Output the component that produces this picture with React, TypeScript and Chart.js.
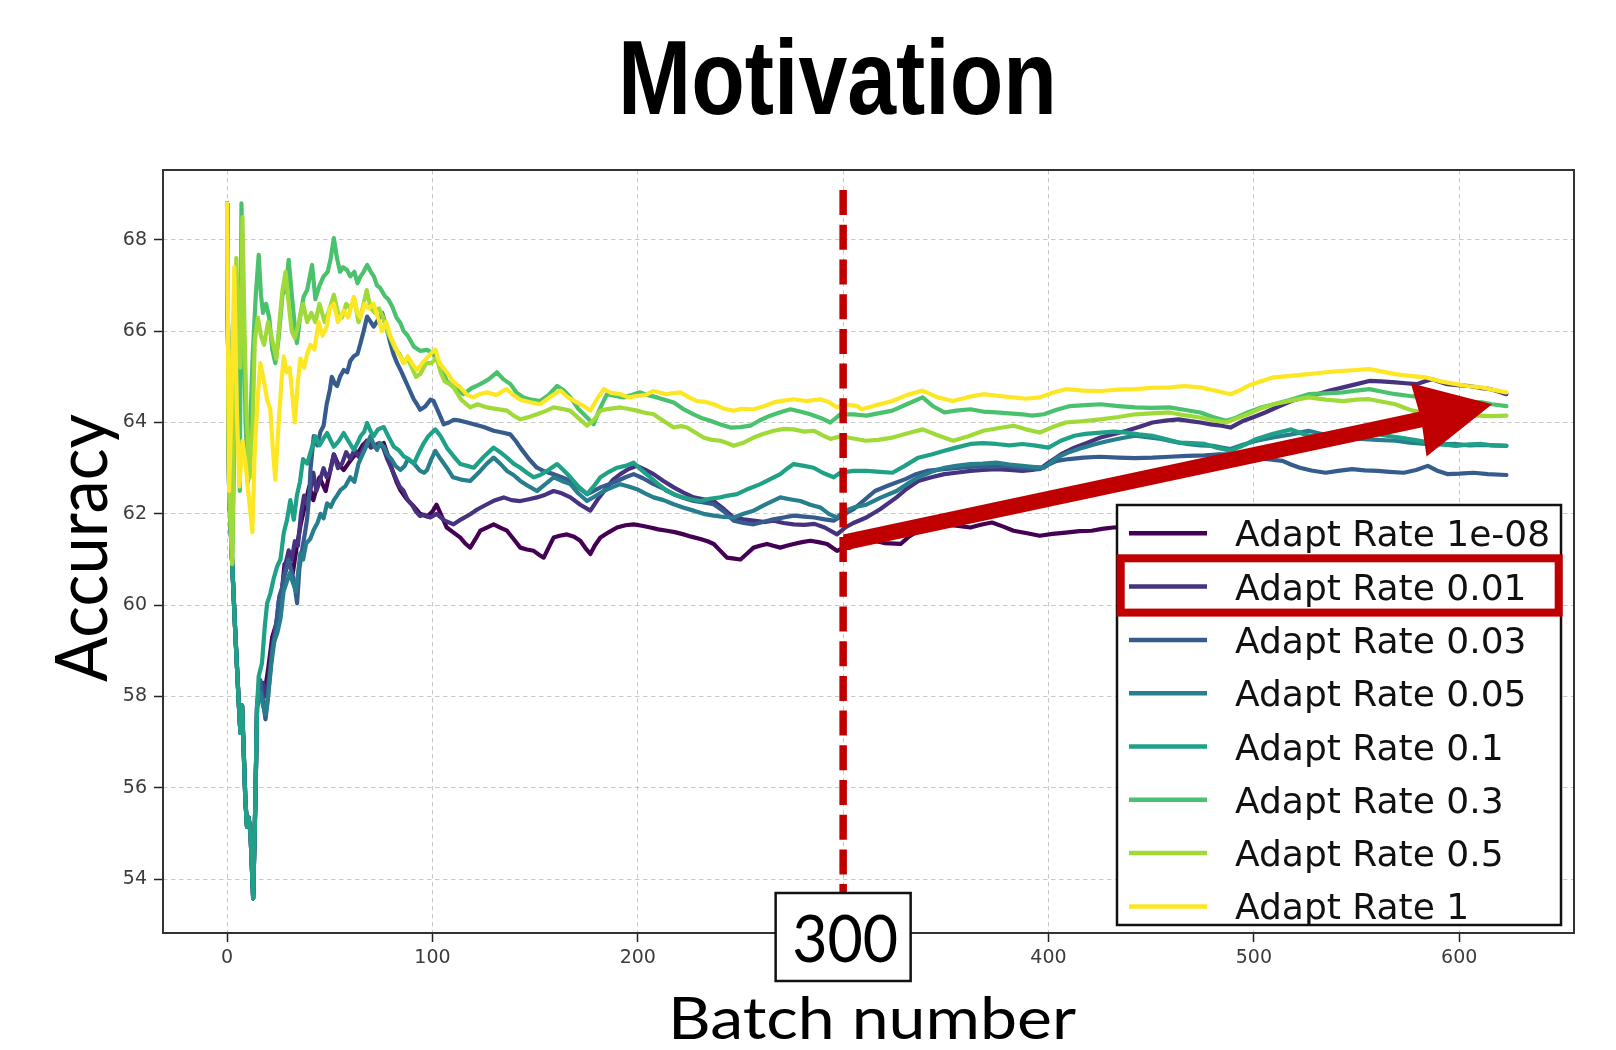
import React, { useEffect, useRef } from 'react';
import { Chart, registerables } from 'chart.js';

Chart.register(...registerables);

// ---------- data ----------
const TITLE = 'Motivation';
const X_TITLE = 'Batch number';
const Y_TITLE = 'Accuracy';

const SERIES_LABELS = [
  'Adapt Rate 1e-08',
  'Adapt Rate 0.01',
  'Adapt Rate 0.03',
  'Adapt Rate 0.05',
  'Adapt Rate 0.1',
  'Adapt Rate 0.3',
  'Adapt Rate 0.5',
  'Adapt Rate 1',
];
const SERIES_COLORS = ['#440154', '#46327e', '#365c8d', '#277f8e', '#1fa187', '#4ac16d', '#a0da39', '#fde725'];

const X_TICKS = [0, 100, 200, 300, 400, 500, 600];
const Y_TICKS = [54, 56, 58, 60, 62, 64, 66, 68];
const X_RANGE = [-31.2, 655.9];
const Y_RANGE = [52.82, 69.53];

const MARKER_BATCH = 300;
const MARKER_LABEL = '300';
const MARKER_TOP = 69.09;
const ARROW_FROM = [300, 61.37];
const ARROW_TO = [616, 64.4];
const HIGHLIGHT_INDEX = 1;

// shared first batches (lines overlap here)
const EARLY_DIP: [number, number][] = [
  [0, 68.8], [1, 62.5], [2.5, 60.9], [4, 59.4], [5.7, 57.85], [6.5, 57.2], [7.3, 57.8], [8.1, 56.8],
  [8.9, 55.74], [9.7, 55.15], [10.5, 55.35], [11.4, 55.0], [12.7, 53.58], [13.8, 55.74], [14.6, 57.78],
];

const rate1e08: [number, number][] = [
  ...EARLY_DIP,
  [16, 58.3], [18, 58.0], [20, 58.6], [22, 59.3], [24, 59.6], [26, 60.0], [28, 60.9], [30, 61.0], [32, 60.7],
  [34, 61.3], [36, 61.8], [38, 62.2], [40, 62.6], [42, 62.3], [45, 62.8], [48, 62.5], [50, 62.9], [52, 63.3],
  [54, 63.1], [56.8, 62.96], [59, 63.1], [61.7, 63.26], [64, 63.35], [66, 63.5], [68.2, 63.6], [70.5, 63.55],
  [73, 63.47], [76.3, 63.55], [78.5, 63.25], [80.4, 62.96], [82.5, 62.7], [84.4, 62.52], [87, 62.35], [89, 62.25],
  [91, 62.16], [94, 62.0], [97.4, 61.94], [100, 62.05], [102, 62.2], [104.5, 61.95], [107, 61.7], [110, 61.6],
  [113.6, 61.48], [116, 61.35], [118.4, 61.26], [121, 61.45], [123.3, 61.63], [126.5, 61.7], [129.8, 61.77],
  [133, 61.7], [136.3, 61.63], [139.5, 61.45], [142.8, 61.26], [146, 61.22], [149.3, 61.19], [152, 61.1],
  [154.2, 61.04], [157, 61.3], [159, 61.48], [162, 61.52], [165.5, 61.55], [169, 61.5], [172, 61.41],
  [174.5, 61.25], [176.9, 61.12], [179, 61.3], [181.8, 61.48], [186, 61.6], [189.9, 61.7], [194, 61.75],
  [198, 61.77], [202, 61.74], [206.1, 61.7], [210, 61.66], [214.2, 61.63], [218, 61.6], [222.3, 61.55],
  [226, 61.5], [230.5, 61.45], [234, 61.4], [237, 61.34], [240, 61.2], [243.5, 61.04], [247, 61.02], [250, 61.0],
  [253, 61.12], [256.4, 61.26], [259.5, 61.3], [262.9, 61.34], [266, 61.3], [269.4, 61.26], [272.5, 61.3],
  [275.9, 61.34], [280, 61.38], [284, 61.41], [288, 61.38], [292.2, 61.34], [295, 61.25], [297, 61.19],
  [300, 61.25], [303.5, 61.26], [306, 61.4], [309, 61.48], [314, 61.42], [320, 61.36], [328, 61.34], [332, 61.5],
  [336.6, 61.63], [343, 61.7], [349.3, 61.77], [355, 61.74], [362, 61.7], [367, 61.76], [372.5, 61.81],
  [378, 61.72], [383, 61.63], [389, 61.58], [395.7, 61.52], [402, 61.56], [408.4, 61.59], [415, 61.62],
  [421, 61.63], [426, 61.67], [431.6, 61.7], [440, 61.72], [450, 61.68], [465, 61.76], [480, 61.8], [495, 61.74],
  [510, 61.82], [525, 61.86], [540, 61.8], [555, 61.88], [570, 61.9], [585, 61.85], [600, 61.92], [612, 61.9],
  [623, 61.88],
];

const rate001: [number, number][] = [
  ...EARLY_DIP,
  [16, 58.0], [17.5, 58.3], [19, 58.0], [20.3, 58.4], [22, 59.1], [24, 59.6], [25.5, 60.2], [27, 60.4],
  [28.5, 60.9], [30, 61.2], [31.5, 61.0], [33, 61.4], [34.5, 61.3], [36, 62.0], [37.5, 62.4], [39, 62.2],
  [40.5, 62.5], [42, 62.9], [43.5, 62.5], [45, 62.7], [47, 63.0], [48.5, 62.8], [50, 62.9], [52, 63.3], [54, 63.0],
  [56, 63.1], [58, 63.35], [60, 63.2], [62, 63.4], [64, 63.25], [66, 63.4], [68, 63.6], [70, 63.45], [72, 63.5],
  [74, 63.55], [76, 63.45], [78, 63.2], [80, 63.0], [82, 62.8], [84, 62.6], [86, 62.5], [88, 62.3], [90, 62.2],
  [92, 62.05], [94, 61.95], [96, 61.98], [99, 61.92], [102, 62.0], [106, 61.85], [110.3, 61.77], [114, 61.88],
  [118.4, 61.99], [122, 62.1], [126.6, 62.21], [130.5, 62.3], [134.7, 62.36], [138.5, 62.3], [142.8, 62.28],
  [147, 62.32], [150.9, 62.36], [155, 62.42], [159, 62.5], [163, 62.45], [167.2, 62.36], [172, 62.2],
  [176.9, 62.07], [181, 62.35], [185, 62.58], [188, 62.75], [191.5, 62.87], [195.5, 62.98], [199.6, 63.05],
  [203.5, 62.97], [207.7, 62.87], [212.5, 62.72], [217.5, 62.58], [222, 62.47], [227.2, 62.36], [232, 62.32],
  [237, 62.28], [242, 62.1], [246.7, 61.92], [251.5, 61.88], [256.4, 61.85], [262, 61.82], [266.2, 61.85],
  [271, 61.8], [275.9, 61.77], [281, 61.76], [286, 61.78], [291, 61.7], [297, 61.55], [301, 61.7], [305, 61.8],
  [311.3, 61.92], [318, 62.1], [326, 62.36], [331, 62.55], [336.6, 62.72], [343, 62.8], [349.3, 62.87],
  [355, 62.9], [362, 62.94], [368, 62.96], [374.6, 62.98], [381, 62.96], [387.3, 62.94], [392, 62.96],
  [396, 62.99], [400, 63.12], [406, 63.3], [412.6, 63.45], [419, 63.56], [425.3, 63.67], [432, 63.75],
  [438, 63.82], [444, 63.9], [450.6, 64.0], [457, 64.04], [463.3, 64.07], [469, 64.03], [474, 64.0], [479, 63.96],
  [484.4, 63.93], [488.6, 63.89], [495, 64.04], [500, 64.12], [505.5, 64.22], [512, 64.35], [518.2, 64.47],
  [524, 64.55], [530.9, 64.62], [537, 64.7], [543.5, 64.77], [550, 64.84], [556.2, 64.91], [562, 64.9],
  [569, 64.88], [574, 64.86], [579.4, 64.84], [583, 64.9], [586.8, 64.95], [590, 64.9], [594.2, 64.84],
  [599, 64.82], [604.8, 64.8], [610, 64.76], [615.3, 64.73], [619, 64.68], [623, 64.62],
];

const rate003: [number, number][] = [
  ...EARLY_DIP,
  [15.4, 58.2], [16.2, 58.36], [17.5, 57.9], [18.7, 57.5], [19.5, 57.8], [20.3, 58.2], [22, 59.0], [23.5, 59.4],
  [25.2, 60.1], [26.5, 60.3], [27.6, 60.6], [29, 60.8], [30, 61.0], [31.7, 60.7], [33, 60.4], [34.1, 60.04],
  [35.2, 60.8], [36.5, 61.2], [38, 61.6], [39, 61.9], [40, 62.4], [40.6, 62.96], [42.2, 63.7], [44, 63.5],
  [45.5, 63.8], [47, 63.93], [48.5, 64.4], [50, 64.7], [51, 65.0], [52.5, 64.85], [53.6, 64.8], [55, 65.0],
  [56.8, 65.15], [58.5, 65.1], [60, 65.35], [61.7, 65.45], [63.5, 65.5], [65, 65.74], [66.5, 66.0], [68.2, 66.32],
  [70, 66.2], [71.4, 66.1], [73.5, 66.25], [75.5, 66.4], [77.5, 66.1], [79.5, 65.74], [81, 65.5], [82.8, 65.3],
  [84.5, 65.15], [86, 65.0], [88.5, 64.75], [91, 64.5], [92.5, 64.4], [94, 64.28], [96.5, 64.35], [99, 64.5],
  [100.6, 64.47], [103.9, 64.13], [105.5, 63.96], [108, 64.0], [110.4, 64.06], [113.6, 64.04], [117, 64.0],
  [120.1, 63.96], [125, 63.9], [129.8, 63.82], [134, 63.78], [137.9, 63.74], [140.5, 63.6], [142.8, 63.45],
  [147, 63.2], [150.9, 63.01], [155, 62.92], [159, 62.87], [163, 62.8], [167.2, 62.72], [171, 62.58],
  [175.3, 62.43], [178.5, 62.5], [181.8, 62.58], [186, 62.65], [189.9, 62.72], [194, 62.8], [198, 62.87],
  [202.5, 62.78], [207.7, 62.65], [212.5, 62.55], [217.5, 62.43], [222, 62.35], [227.2, 62.28], [232, 62.25],
  [237, 62.21], [242, 62.05], [246.7, 61.85], [251.5, 61.8], [256.4, 61.77], [261, 61.82], [266, 61.88],
  [271, 61.92], [275.9, 61.96], [281, 61.94], [286, 61.92], [291, 61.88], [295.4, 61.85], [299, 61.95],
  [305, 62.1], [309, 62.25], [315.5, 62.5], [322, 62.62], [330.3, 62.76], [335, 62.86], [340.8, 62.94],
  [349, 62.98], [357.7, 63.01], [365, 63.04], [372, 63.03], [379, 63.05], [387, 63.0], [395.7, 62.98],
  [400, 63.08], [404, 63.16], [410, 63.2], [417, 63.23], [425, 63.25], [434, 63.23], [442, 63.22], [450.6, 63.23],
  [459, 63.25], [467.5, 63.27], [476, 63.28], [482, 63.3], [488.6, 63.3], [496, 63.25], [505.5, 63.2],
  [514, 63.16], [518, 63.08], [522.4, 63.01], [528, 62.95], [535, 62.9], [541, 62.94], [547.8, 62.98],
  [554, 62.95], [560.4, 62.94], [566, 62.92], [573.1, 62.9], [579, 62.96], [584.7, 63.05], [589, 62.95],
  [594.2, 62.87], [600, 62.88], [607, 62.9], [614, 62.87], [623, 62.85],
];

const rate005: [number, number][] = [
  ...EARLY_DIP,
  [16, 58.1], [17.5, 57.8], [18.7, 57.6], [20, 58.0], [21.5, 58.7], [23, 59.2], [24.5, 59.4], [26, 59.7],
  [27.5, 60.3], [29, 60.5], [30.5, 60.7], [32, 60.5], [33.5, 60.3], [35.7, 61.14], [37, 61.0], [38.5, 61.35],
  [40.5, 61.45], [42.2, 61.65], [44, 61.8], [45.5, 62.0], [47, 61.9], [48.7, 62.23], [50.5, 62.15], [52, 62.3],
  [53.5, 62.4], [55.2, 62.52], [57.5, 62.6], [60, 62.8], [62, 62.7], [64, 63.1], [66, 63.3], [68, 63.5],
  [69.8, 63.7], [71.5, 63.5], [73, 63.4], [74.5, 63.55], [76.3, 63.47], [78, 63.3], [80, 63.2], [82, 63.05],
  [84.4, 62.96], [86.5, 63.05], [88, 63.2], [91, 63.1], [94, 62.94], [96, 62.9], [97.4, 62.96], [99.5, 63.2],
  [101.4, 63.38], [104, 63.2], [107, 63.01], [110, 62.8], [114, 62.75], [118.4, 62.72], [123.3, 62.94],
  [126.5, 63.1], [129.8, 63.23], [133, 63.1], [136.3, 62.94], [139.5, 62.85], [142.8, 62.72], [147, 62.6],
  [150.9, 62.5], [155, 62.65], [159, 62.8], [163, 62.72], [167.2, 62.65], [171, 62.45], [175.3, 62.28],
  [179, 62.38], [183.4, 62.5], [187.5, 62.58], [191.5, 62.65], [195.5, 62.6], [199.6, 62.54], [203.5, 62.45],
  [207.7, 62.36], [212.5, 62.3], [217.5, 62.21], [222, 62.14], [227.2, 62.07], [232, 62.0], [237, 61.96],
  [242, 61.93], [246.7, 61.92], [251.5, 62.0], [256.4, 62.07], [262, 62.2], [269.4, 62.36], [274, 62.32],
  [279.2, 62.28], [284, 62.2], [288.9, 62.14], [293, 62.0], [297, 61.92], [301, 62.07], [306, 62.15],
  [311.3, 62.2], [318, 62.35], [326, 62.5], [331, 62.65], [336.6, 62.8], [343, 62.92], [349.3, 63.01],
  [355, 63.05], [362, 63.09], [368, 63.1], [374.6, 63.12], [381, 63.08], [387.3, 63.05], [392, 63.03],
  [397.8, 63.01], [404.2, 63.23], [410, 63.35], [416.8, 63.45], [423, 63.53], [429.5, 63.6], [436, 63.66],
  [442.2, 63.71], [448, 63.68], [454.9, 63.64], [461, 63.58], [467.5, 63.53], [474, 63.5], [480.2, 63.49],
  [484.5, 63.45], [488.6, 63.42], [495, 63.52], [501.3, 63.6], [510, 63.68], [518.2, 63.74], [526.6, 63.82],
  [533, 63.75], [539, 63.7], [545, 63.67], [552, 63.64], [560, 63.62], [569, 63.6], [576, 63.56], [583.6, 63.53],
  [591, 63.52], [598.4, 63.53], [605, 63.5], [611, 63.51], [617, 63.5], [623, 63.49],
];

const rate01: [number, number][] = [
  ...EARLY_DIP,
  [15.4, 58.44], [17, 58.73], [18.3, 59.5], [19.5, 60.04], [21.1, 60.26], [22.8, 60.6], [24.4, 60.85], [26, 61.0],
  [27.6, 61.58], [29.2, 61.87], [30.8, 62.3], [32.5, 61.87], [34, 62.4], [35.5, 62.7], [37, 63.2], [39, 63.1],
  [41, 63.4], [43, 63.7], [45, 63.5], [47, 63.65], [48.7, 63.77], [50.5, 63.6], [52, 63.47], [54.5, 63.6],
  [56.8, 63.77], [59, 63.6], [61.7, 63.4], [63.5, 63.55], [65, 63.7], [66.8, 63.8], [68.2, 63.99], [70, 63.8],
  [71.4, 63.7], [73.5, 63.85], [76.3, 63.9], [78.5, 63.7], [81.2, 63.47], [83.5, 63.4], [86, 63.26], [88.5, 63.2],
  [91, 63.1], [93.5, 63.35], [95.8, 63.55], [98, 63.7], [101.4, 63.85], [104, 63.7], [107, 63.45], [110.5, 63.25],
  [113.6, 63.09], [117, 63.05], [120.1, 63.01], [125, 63.25], [129.8, 63.45], [133, 63.35], [136.3, 63.23],
  [139.5, 63.1], [142.8, 63.01], [146, 62.9], [149.3, 62.8], [152.5, 62.85], [155.8, 62.94], [160.7, 63.09],
  [164, 62.95], [167.2, 62.8], [171, 62.6], [175.3, 62.43], [178.5, 62.6], [181.8, 62.8], [186, 62.92],
  [189.9, 63.01], [194, 63.05], [198, 63.12], [202, 62.95], [206.1, 62.8], [210, 62.65], [214.2, 62.5],
  [218, 62.42], [222.3, 62.36], [226, 62.32], [230.5, 62.28], [235, 62.33], [240.2, 62.36], [244, 62.4],
  [248.3, 62.43], [254, 62.55], [259.7, 62.65], [264.5, 62.76], [269.4, 62.87], [273, 63.0], [275.9, 63.09],
  [281, 63.05], [285.6, 63.01], [290, 62.9], [295.4, 62.8], [298.6, 62.9], [305, 62.94], [311.3, 62.94],
  [318, 62.92], [324, 62.9], [330, 63.05], [336.6, 63.23], [343, 63.3], [349.3, 63.38], [355, 63.45],
  [362, 63.53], [368, 63.55], [374.6, 63.53], [381, 63.5], [387.3, 63.53], [393, 63.5], [400, 63.45],
  [406, 63.6], [412.6, 63.71], [418, 63.75], [425.3, 63.78], [432, 63.8], [438, 63.78], [444, 63.74],
  [450.6, 63.71], [457, 63.64], [463.3, 63.56], [470, 63.55], [476, 63.53], [482, 63.45], [488.6, 63.38],
  [495, 63.5], [501.3, 63.64], [509, 63.75], [518.2, 63.85], [524, 63.75], [530.9, 63.67], [537, 63.7],
  [543.5, 63.74], [550, 63.76], [556.2, 63.78], [563, 63.72], [571, 63.67], [578, 63.62], [585.8, 63.56],
  [592, 63.52], [598.4, 63.49], [605, 63.52], [611, 63.53], [616, 63.5], [623, 63.49],
];

const rate03: [number, number][] = [
  [0, 68.8], [1, 62.5], [2.5, 60.9], [3.5, 63.5], [4.5, 65.0], [5.5, 66.7], [6.2, 62.5], [7, 68.8], [8, 66.5],
  [9, 64.0], [10.2, 62.7], [11.5, 64.2], [12.5, 65.5], [14, 66.8], [15.4, 67.67], [16.5, 66.8], [17.5, 66.4],
  [19, 66.6], [20.5, 66.3], [22, 65.6], [23.5, 65.3], [25, 65.8], [27, 66.8], [28.5, 66.9], [30, 67.56],
  [31.5, 66.8], [33, 66.1], [34, 65.74], [35.5, 66.3], [37.3, 66.76], [39, 66.9], [41.4, 67.45], [43, 66.7],
  [45, 67.0], [47, 67.2], [49, 67.3], [50.5, 67.6], [52, 68.04], [53.5, 67.6], [55, 67.3], [56.5, 67.4],
  [58.4, 67.34], [60, 67.2], [62, 67.3], [63.5, 67.05], [65, 67.2], [66.5, 67.3], [68.2, 67.45], [70, 67.3],
  [71.5, 67.2], [73, 67.0], [74.5, 66.95], [77, 66.76], [78.5, 66.7], [80.4, 66.54], [82.5, 66.3], [84.4, 66.18],
  [86, 66.0], [88, 65.9], [91, 65.66], [94, 65.57], [97.4, 65.59], [100.6, 65.5], [103.5, 65.3], [107, 64.91],
  [111, 64.75], [115.2, 64.62], [119, 64.75], [123.3, 64.84], [127.5, 64.95], [131.4, 65.1], [134.5, 64.95],
  [138, 64.84], [141, 64.65], [144.4, 64.55], [148, 64.5], [152.5, 64.47], [156.5, 64.6], [160.7, 64.8],
  [164, 64.7], [167.2, 64.55], [171, 64.3], [175.3, 64.11], [178.5, 63.96], [181.5, 64.3], [185, 64.62],
  [189, 64.58], [193.1, 64.55], [197, 64.6], [201.2, 64.66], [205, 64.6], [209.4, 64.55], [213, 64.5],
  [217.5, 64.44], [222, 64.3], [227.2, 64.18], [231, 64.1], [235.3, 64.04], [240, 63.96], [245.1, 63.89],
  [250, 63.9], [254.8, 63.93], [259.5, 64.05], [264.5, 64.15], [269, 64.22], [274.3, 64.29], [279, 64.24],
  [284, 64.18], [289, 64.1], [293.8, 64.0], [298.6, 64.18], [305, 64.18], [311.3, 64.15], [317, 64.2],
  [324, 64.26], [331, 64.4], [338.7, 64.55], [344, 64.35], [349.3, 64.22], [355, 64.26], [362, 64.29],
  [368, 64.24], [374.6, 64.22], [381, 64.2], [387.3, 64.18], [392, 64.15], [397.8, 64.18], [404, 64.28],
  [410.5, 64.36], [418, 64.38], [425.3, 64.4], [434, 64.36], [442.2, 64.33], [450, 64.32], [459, 64.33],
  [466, 64.28], [473.9, 64.22], [480, 64.12], [486.5, 64.04], [491, 64.1], [497, 64.22], [503, 64.32],
  [509.7, 64.4], [518, 64.5], [526.6, 64.62], [535, 64.64], [543.5, 64.66], [550, 64.7], [556.2, 64.73],
  [562, 64.68], [568.9, 64.62], [576, 64.58], [583.6, 64.55], [591, 64.5], [598.4, 64.47], [604, 64.46],
  [611, 64.44], [616, 64.4], [623, 64.36],
];

const rate05: [number, number][] = [
  [0, 68.8], [1, 62.5], [2.5, 60.9], [3.5, 64.5], [4.5, 67.6], [5.5, 66.0], [6.5, 65.2], [7.5, 68.5], [8.5, 66.0],
  [9.5, 64.2], [11, 62.8], [12.5, 64.0], [13.5, 65.8], [15, 66.3], [16.5, 65.9], [18, 65.7], [20, 66.2],
  [22, 65.8], [24, 65.4], [25.5, 66.2], [27, 66.9], [28.5, 67.3], [30, 66.6], [31.5, 66.0], [33, 65.85],
  [35, 66.2], [37, 66.6], [39, 66.2], [41, 66.4], [43, 66.2], [45, 66.6], [47.5, 66.2], [50, 66.5], [52, 66.8],
  [54, 66.4], [56, 66.3], [58, 66.6], [60, 66.5], [62, 66.7], [64, 66.2], [66, 66.5], [68, 66.9], [70, 66.5],
  [72, 66.4], [74, 66.5], [76, 66.3], [78, 66.0], [80, 65.8], [82, 65.6], [84, 65.5], [86, 65.3], [88, 65.4],
  [90, 65.2], [92, 65.0], [94, 65.06], [97, 65.3], [99.5, 65.3], [102, 65.42], [104, 65.1], [106, 64.9],
  [108, 64.85], [110.3, 64.77], [114, 64.5], [118.4, 64.33], [122, 64.4], [126.6, 64.33], [131, 64.3],
  [136.3, 64.26], [139.5, 64.15], [142.8, 64.07], [147, 64.12], [150.9, 64.18], [155, 64.25], [159, 64.33],
  [163, 64.3], [167, 64.26], [171, 64.1], [175.3, 63.93], [178.5, 64.05], [181.8, 64.26], [186, 64.3],
  [191.5, 64.33], [195, 64.3], [199.6, 64.26], [203, 64.22], [207.7, 64.18], [212, 64.05], [217.5, 63.89],
  [221, 63.92], [224, 63.89], [228, 63.78], [232, 63.67], [236, 63.62], [240.2, 63.6], [243.5, 63.55],
  [246.7, 63.49], [251, 63.55], [256.4, 63.67], [261, 63.75], [266.2, 63.82], [271, 63.86], [275.9, 63.85],
  [281, 63.8], [285.7, 63.82], [290, 63.72], [293.8, 63.64], [298.6, 63.7], [305, 63.65], [311, 63.6],
  [317, 63.62], [324, 63.67], [331, 63.76], [338.7, 63.85], [346, 63.72], [353.5, 63.6], [361, 63.7],
  [368.3, 63.82], [376, 63.88], [383, 63.93], [389, 63.85], [395.7, 63.78], [402, 63.9], [408.4, 64.0],
  [417, 64.03], [425.3, 64.07], [434, 64.12], [442.2, 64.18], [450, 64.2], [459, 64.22], [466, 64.16],
  [473.9, 64.11], [480, 64.05], [486.5, 64.0], [491, 64.08], [497, 64.18], [503, 64.3], [509.7, 64.4],
  [518, 64.48], [526.6, 64.55], [535, 64.5], [543.5, 64.47], [550, 64.5], [556.2, 64.51], [562, 64.46],
  [568.9, 64.4], [573, 64.33], [577.3, 64.26], [585, 64.2], [594.2, 64.15], [601, 64.16], [609, 64.15],
  [615, 64.14], [623, 64.15],
];

const rate1: [number, number][] = [
  [0, 68.8], [1, 62.5], [2.2, 64.5], [3.5, 67.4], [4.8, 64.2], [6, 62.6], [7.5, 63.6], [9, 63.1], [10.5, 62.4],
  [12.3, 61.6], [13.5, 63.4], [15, 64.6], [16.2, 65.3], [18, 64.9], [19.5, 64.5], [21, 64.3], [22.3, 63.4],
  [23.5, 62.75], [25, 63.9], [26.5, 64.9], [27.6, 65.45], [29, 65.1], [30.5, 65.2], [32, 64.5], [33, 64.0],
  [34.5, 64.9], [35.7, 65.4], [37.5, 65.2], [39, 65.5], [40.6, 65.7], [42.5, 65.6], [44.6, 66.2], [46.5, 65.9],
  [48.5, 66.1], [50, 66.5], [52, 66.6], [54, 66.2], [56.8, 66.45], [59, 66.3], [61.7, 66.75], [63.5, 66.4],
  [65, 66.3], [67, 66.6], [69, 66.5], [71.4, 66.6], [73.5, 66.3], [75.5, 66.0], [77.5, 66.2], [79.5, 65.9],
  [81, 65.75], [83.5, 65.5], [86, 65.3], [88, 65.45], [90, 65.3], [92.5, 65.15], [95, 65.3], [97, 65.4],
  [99, 65.5], [101.4, 65.6], [103.5, 65.3], [107, 65.1], [110, 64.9], [113.6, 64.77], [117, 64.6], [120, 64.55],
  [123, 64.62], [126.6, 64.66], [131, 64.6], [136, 64.73], [139.5, 64.6], [142.8, 64.5], [147, 64.45],
  [152.5, 64.4], [157, 64.55], [162.3, 64.7], [166, 64.55], [170.4, 64.44], [174, 64.35], [176.9, 64.26],
  [180, 64.5], [183.4, 64.73], [187, 64.65], [191.5, 64.62], [195.5, 64.55], [199.6, 64.58], [203.5, 64.6],
  [207.7, 64.69], [214, 64.62], [220.7, 64.66], [225, 64.55], [228.8, 64.47], [233, 64.45], [237, 64.4],
  [242, 64.3], [246.7, 64.26], [251, 64.3], [256.4, 64.29], [261, 64.35], [266.2, 64.44], [271, 64.48],
  [275.9, 64.51], [282, 64.47], [288.9, 64.51], [293, 64.45], [297, 64.33], [301, 64.4], [306.8, 64.36],
  [309, 64.29], [316, 64.38], [324, 64.47], [331, 64.6], [338.7, 64.7], [346, 64.55], [353.5, 64.47],
  [361, 64.56], [368.3, 64.62], [376, 64.58], [383, 64.55], [389, 64.52], [395.7, 64.55], [402, 64.65],
  [408.4, 64.73], [417, 64.7], [425.3, 64.69], [434, 64.72], [442.2, 64.73], [450, 64.76], [459, 64.77],
  [466, 64.8], [473.9, 64.77], [481, 64.7], [488.6, 64.62], [493, 64.7], [497, 64.8], [503, 64.9],
  [509.7, 64.99], [518, 65.02], [526.6, 65.06], [535, 65.1], [543.5, 65.13], [550, 65.15], [556.2, 65.17],
  [562, 65.12], [568.9, 65.06], [576, 65.02], [583.6, 64.99], [591, 64.9], [598.4, 64.84], [604, 64.8],
  [611, 64.77], [616, 64.72], [623, 64.66],
];

const SERIES_DATA = [rate1e08, rate001, rate003, rate005, rate01, rate03, rate05, rate1];

// ---------- drawing helpers ----------
const RED = '#c00000';

function fittedText(ctx: CanvasRenderingContext2D, text: string, font: string, x: number, baseline: number, width: number) {
  ctx.save();
  ctx.font = font;
  const w = ctx.measureText(text).width || 1;
  ctx.translate(x, baseline);
  ctx.scale(width / w, 1);
  ctx.textAlign = 'center';
  ctx.textBaseline = 'alphabetic';
  ctx.fillStyle = '#000';
  ctx.fillText(text, 0, 0);
  ctx.restore();
}

const overlayPlugin = {
  id: 'overlay',
  beforeDraw(chart: any) {
    const { ctx, width, height } = chart;
    ctx.save();
    ctx.fillStyle = '#ffffff';
    ctx.fillRect(0, 0, width, height);
    ctx.restore();
  },
  afterDatasetsDraw(chart: any) {
    const { ctx, chartArea: a, scales } = chart;
    const xs = scales.x;
    const ys = scales.y;
    ctx.save();
    // frame
    ctx.strokeStyle = '#333333';
    ctx.lineWidth = 2;
    ctx.strokeRect(a.left, a.top, a.right - a.left, a.bottom - a.top);

    // red dashed marker line
    const mx = xs.getPixelForValue(MARKER_BATCH);
    ctx.strokeStyle = RED;
    ctx.lineWidth = 7.5;
    ctx.setLineDash([25, 9.7]);
    ctx.beginPath();
    ctx.moveTo(mx, ys.getPixelForValue(MARKER_TOP));
    ctx.lineTo(mx, a.bottom);
    ctx.stroke();
    ctx.setLineDash([]);

    // arrow
    const p0x = xs.getPixelForValue(ARROW_FROM[0]);
    const p0y = ys.getPixelForValue(ARROW_FROM[1]);
    const p1x = xs.getPixelForValue(ARROW_TO[0]);
    const p1y = ys.getPixelForValue(ARROW_TO[1]);
    const dx = p1x - p0x, dy = p1y - p0y;
    const len = Math.hypot(dx, dy);
    const ux = dx / len, uy = dy / len;
    const nx = -uy, ny = ux;
    const headL = 75, headW = 37.5, shaftW = 16;
    const bx = p1x - ux * headL, by = p1y - uy * headL;
    const h = shaftW / 2;
    const sTopY = p0y + ny * h - (uy * nx * h) / ux;
    const sBotY = p0y - ny * h + (uy * nx * h) / ux;
    ctx.fillStyle = RED;
    ctx.beginPath();
    ctx.moveTo(p0x, sTopY);
    ctx.lineTo(bx + nx * h + ux * 2, by + ny * h + uy * 2);
    ctx.lineTo(bx + nx * headW, by + ny * headW);
    ctx.lineTo(p1x, p1y);
    ctx.lineTo(bx - nx * headW, by - ny * headW);
    ctx.lineTo(bx - nx * h + ux * 2, by - ny * h + uy * 2);
    ctx.lineTo(p0x, sBotY);
    ctx.closePath();
    ctx.fill();
    ctx.restore();
  },
  afterDraw(chart: any) {
    const { ctx, chartArea: a, scales } = chart;
    const xs = scales.x;
    ctx.save();

    // legend
    const lw = 444, lh = 420;
    const lx = a.right - 13 - lw;
    const ly = a.bottom - 8 - lh;
    ctx.fillStyle = '#ffffff';
    ctx.fillRect(lx, ly, lw, lh);
    ctx.strokeStyle = '#111111';
    ctx.lineWidth = 2.5;
    ctx.strokeRect(lx, ly, lw, lh);
    const datasets = chart.data.datasets;
    ctx.font = '36px "DejaVu Sans"';
    ctx.textAlign = 'left';
    ctx.textBaseline = 'alphabetic';
    datasets.forEach((ds: any, i: number) => {
      const ry = ly + 28.3 + 53.3 * i;
      ctx.strokeStyle = ds.borderColor;
      ctx.lineWidth = 4.5;
      ctx.beginPath();
      ctx.moveTo(lx + 12, ry);
      ctx.lineTo(lx + 90, ry);
      ctx.stroke();
      ctx.fillStyle = '#111111';
      ctx.fillText(ds.label, lx + 118, ry + 13);
    });
    // highlight box
    ctx.strokeStyle = RED;
    ctx.lineWidth = 8;
    const hy = ly + 28.3 + 53.3 * HIGHLIGHT_INDEX;
    ctx.strokeRect(lx + 3.7, hy - 28.3, 438, 54.3);

    // marker label box
    const mx = xs.getPixelForValue(MARKER_BATCH);
    ctx.fillStyle = '#ffffff';
    ctx.fillRect(mx - 67.5, a.bottom - 40, 135, 88);
    ctx.strokeStyle = '#111111';
    ctx.lineWidth = 2.5;
    ctx.strokeRect(mx - 67.5, a.bottom - 40, 135, 88);
    fittedText(ctx, MARKER_LABEL, '66px Lato', mx + 2, a.bottom + 28.7, 106);

    // titles
    fittedText(ctx, TITLE, 'bold 105px "Liberation Sans"', 837.5, 114, 439);
    fittedText(ctx, X_TITLE, '58px Lato', 872, 1039, 408);
    ctx.save();
    ctx.translate(106.5, 548);
    ctx.rotate(-Math.PI / 2);
    fittedText(ctx, Y_TITLE, '72px Lato', 0, 0, 268);
    ctx.restore();

    ctx.restore();
  },
};

export default function App() {
  const canvasRef = useRef<HTMLCanvasElement | null>(null);

  useEffect(() => {
    document.body.style.margin = '0';
    const canvas = canvasRef.current;
    if (!canvas) return;
    const n = SERIES_DATA.length;
    const chart = new Chart(canvas, {
      type: 'line',
      data: {
        datasets: SERIES_DATA.map((s, i) => ({
          label: SERIES_LABELS[i],
          data: s.map(([x, y]) => ({ x, y })),
          borderColor: SERIES_COLORS[i],
          backgroundColor: SERIES_COLORS[i],
          borderWidth: 4.2,
          pointRadius: 0,
          tension: 0,
          fill: false,
          order: n - 1 - i,
          borderJoinStyle: 'round',
          borderCapStyle: 'round',
        })),
      },
      options: {
        animation: false,
        responsive: false,
        maintainAspectRatio: false,
        devicePixelRatio: 1,
        layout: { padding: { left: 0, right: 42, top: 170, bottom: 0 } },
        plugins: {
          legend: { display: false },
          tooltip: { enabled: false },
          title: { display: false },
        },
        scales: {
          x: {
            type: 'linear',
            min: X_RANGE[0],
            max: X_RANGE[1],
            afterBuildTicks: (scale: any) => {
              scale.ticks = X_TICKS.map((v) => ({ value: v }));
            },
            afterFit: (scale: any) => {
              scale.height = 117;
            },
            grid: {
              color: '#c8c8c8',
              lineWidth: 1,
              tickLength: 9,
              tickColor: '#222222',
              tickWidth: 1.5,
            },
            border: { display: false, dash: [4.5, 3.5] },
            ticks: {
              font: { family: 'DejaVu Sans', size: 19 },
              color: '#3c3c3c',
              padding: 5,
              maxRotation: 0,
              autoSkip: false,
            },
          },
          y: {
            type: 'linear',
            min: Y_RANGE[0],
            max: Y_RANGE[1],
            afterBuildTicks: (scale: any) => {
              scale.ticks = Y_TICKS.map((v) => ({ value: v }));
            },
            afterFit: (scale: any) => {
              scale.width = 163;
            },
            grid: {
              color: '#c8c8c8',
              lineWidth: 1,
              tickLength: 9,
              tickColor: '#222222',
              tickWidth: 1.5,
            },
            border: { display: false, dash: [4.5, 3.5] },
            ticks: {
              font: { family: 'DejaVu Sans', size: 19 },
              color: '#3c3c3c',
              padding: 7,
              autoSkip: false,
            },
          },
        },
      },
      plugins: [overlayPlugin],
    } as any);
    return () => chart.destroy();
  }, []);

  return (
    <div style={{ position: 'absolute', left: 0, top: 0, width: 1616, height: 1050, background: '#fff' }}>
      <canvas ref={canvasRef} width={1616} height={1050} style={{ display: 'block', width: 1616, height: 1050 }} />
    </div>
  );
}
